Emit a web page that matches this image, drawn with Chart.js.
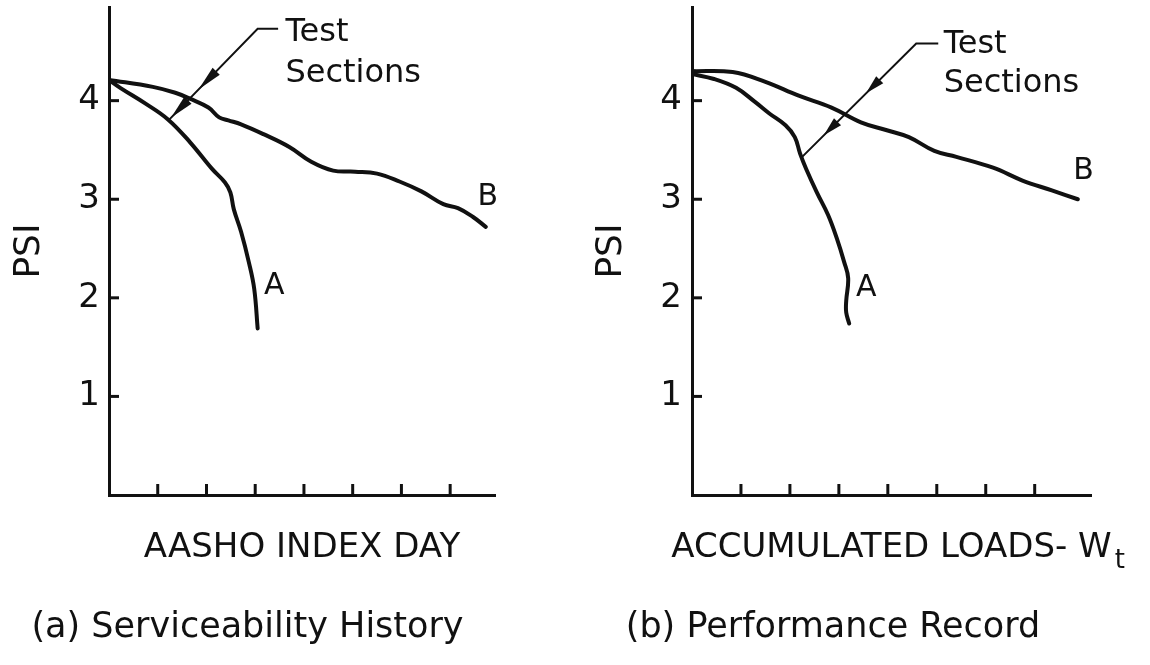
<!DOCTYPE html>
<html>
<head>
<meta charset="utf-8">
<script src="https://cdn.jsdelivr.net/npm/chart.js@4.4.1/dist/chart.umd.min.js"></script>
<style>
  html, body { margin: 0; background: #fff; }
  #wrap { position: relative; width: 1150px; height: 665px; }
  canvas { position: absolute; top: 0; }
  #hist { left: 0; }
  #perf { left: 575px; }
</style>
</head>
<body>
<div id="wrap">
  <canvas id="hist" width="575" height="665"></canvas>
  <canvas id="perf" width="575" height="665"></canvas>
</div>
<script>
// tick positions
const psiTicks = [1, 2, 3, 4];
const timeTicks = [1, 2, 3, 4, 5, 6, 7];

// (a) serviceability history
const histAx = [0, 0.23, 0.75, 1.21, 1.66, 2.11, 2.38, 2.49, 2.56, 2.71, 2.87, 2.98, 3.05];
const histAy = [4.21, 4.13, 3.97, 3.81, 3.58, 3.31, 3.17, 3.07, 2.90, 2.67, 2.36, 2.09, 1.69];
const histBx = [0, 0.90, 1.36, 1.66, 2.04, 2.26, 2.45, 2.71, 3.17, 3.70, 4.15, 4.60, 5.05, 5.50, 5.96, 6.41, 6.86, 7.16, 7.47, 7.73];
const histBy = [4.21, 4.14, 4.08, 4.02, 3.93, 3.83, 3.80, 3.76, 3.66, 3.53, 3.38, 3.29, 3.28, 3.26, 3.18, 3.08, 2.95, 2.91, 2.82, 2.72];

// (b) performance record
const perfAx = [0, 0.45, 0.90, 1.28, 1.58, 1.91, 2.10, 2.21, 2.33, 2.55, 2.78, 2.96, 3.11, 3.19, 3.15, 3.15, 3.21];
const perfAy = [4.27, 4.22, 4.13, 3.99, 3.87, 3.75, 3.63, 3.46, 3.31, 3.07, 2.84, 2.60, 2.36, 2.20, 1.97, 1.85, 1.74];
const perfBx = [0, 0.83, 1.50, 2.18, 2.85, 3.45, 3.98, 4.43, 4.95, 5.40, 6.15, 6.75, 7.35, 7.88];
const perfBy = [4.30, 4.29, 4.19, 4.05, 3.93, 3.78, 3.70, 3.63, 3.49, 3.43, 3.32, 3.19, 3.09, 3.00];

const INK = '#111';
const FONT = "'DejaVu Sans', sans-serif";

// tick marks inside the axes, axis label, curve letters and the "Test Sections" pointer
function makeInk(cfg) {
  return {
    id: 'ink',
    afterDraw(chart) {
      const { ctx, chartArea: ca, scales: { x, y } } = chart;
      const px = v => x.getPixelForValue(v);
      const py = v => y.getPixelForValue(v);
      ctx.save();
      ctx.strokeStyle = INK;
      ctx.fillStyle = INK;
      ctx.lineWidth = 3;
      x.ticks.forEach(t => {
        ctx.beginPath();
        ctx.moveTo(px(t.value), ca.bottom);
        ctx.lineTo(px(t.value), ca.bottom - 11);
        ctx.stroke();
      });
      y.ticks.forEach(t => {
        ctx.beginPath();
        ctx.moveTo(ca.left, py(t.value));
        ctx.lineTo(ca.left + 10, py(t.value));
        ctx.stroke();
      });

      // x axis label (drawn here so it may run wider than the axis)
      const cx = (ca.left + ca.right) / 2;
      ctx.font = '34px ' + FONT;
      ctx.textAlign = 'center';
      ctx.textBaseline = 'middle';
      ctx.fillText(cfg.xTitle, cx, ca.bottom + 53);
      if (cfg.sub) {
        const w = ctx.measureText(cfg.xTitle).width;
        ctx.font = '26px ' + FONT;
        ctx.textAlign = 'left';
        ctx.fillText(cfg.sub, cx + w / 2 + 3, ca.bottom + 66);
      }

      ctx.font = '30px ' + FONT;
      ctx.textAlign = 'center';
      cfg.letters.forEach(l => ctx.fillText(l.text, px(l.x), py(l.y)));

      // pointer
      const pts = cfg.pointer.map(p => [px(p[0]), py(p[1])]);
      ctx.lineWidth = 2;
      ctx.beginPath();
      pts.forEach((p, i) => i ? ctx.lineTo(p[0], p[1]) : ctx.moveTo(p[0], p[1]));
      ctx.stroke();
      const k = pts[pts.length - 2], tip = pts[pts.length - 1];
      const dx = tip[0] - k[0], dy = tip[1] - k[1];
      const len = Math.hypot(dx, dy);
      const nx = -dy / len, ny = dx / len;
      cfg.darts.forEach(([t0, t1]) => {
        const bx = k[0] + dx * t0, by = k[1] + dy * t0;
        ctx.beginPath();
        ctx.moveTo(bx + nx * 5, by + ny * 5);
        ctx.lineTo(bx - nx * 5, by - ny * 5);
        ctx.lineTo(k[0] + dx * t1, k[1] + dy * t1);
        ctx.closePath();
        ctx.fill();
      });

      ctx.font = '32px ' + FONT;
      ctx.textAlign = 'left';
      ctx.textBaseline = 'alphabetic';
      cfg.note.lines.forEach((s, i) => ctx.fillText(s, px(cfg.note.x), py(cfg.note.y[i])));
      ctx.restore();
    }
  };
}

function panel(id, cfg) {
  const series = cfg.series.map(s => ({
    data: s.x.map((v, i) => ({ x: v, y: s.y[i] })),
    showLine: true,
    borderColor: INK,
    borderWidth: 4,
    pointRadius: 0,
    tension: 0.4,
    borderCapStyle: 'round',
    borderJoinStyle: 'round'
  }));
  return new Chart(document.getElementById(id), {
    type: 'scatter',
    data: { datasets: series },
    options: {
      responsive: false,
      animation: false,
      devicePixelRatio: 1,
      layout: { padding: { top: 7, right: cfg.padRight, left: 0, bottom: 0 } },
      plugins: {
        legend: { display: false },
        tooltip: { enabled: false },
        title: {
          display: true,
          text: cfg.caption,
          position: 'bottom',
          color: INK,
          font: { family: FONT, size: 35, weight: 'normal' },
          padding: { top: 0, bottom: 16 }
        }
      },
      scales: {
        x: {
          type: 'linear',
          min: 0,
          max: cfg.xMax,
          grid: { display: false, drawTicks: false },
          border: { display: true, color: INK, width: 3 },
          ticks: { display: false },
          afterBuildTicks: s => { s.ticks = timeTicks.map(v => ({ value: v })); },
          afterFit: s => { s.height = 112; s.paddingLeft = 0; s.paddingRight = 0; }
        },
        y: {
          type: 'linear',
          min: 0,
          max: 4.95,
          grid: { display: false, drawTicks: false },
          border: { display: true, color: INK, width: 3 },
          afterBuildTicks: s => { s.ticks = psiTicks.map(v => ({ value: v })); },
          afterFit: s => { s.width = cfg.yWidth; s.paddingTop = 0; s.paddingBottom = 0; },
          ticks: {
            color: INK,
            font: { family: FONT, size: 34 },
            padding: cfg.tickPad,
            callback: v => String(v)
          },
          title: {
            display: true,
            text: 'PSI',
            color: INK,
            font: { family: FONT, size: 36 },
            padding: { top: cfg.psiPad, bottom: 0 }
          }
        }
      }
    },
    plugins: [makeInk(cfg)]
  });
}

panel('hist', {
  series: [{ x: histAx, y: histAy }, { x: histBx, y: histBy }],
  xMax: 7.92,
  padRight: 80,
  yWidth: 109,
  tickPad: 9,
  psiPad: 8,
  xTitle: 'AASHO INDEX DAY',
  caption: '(a) Serviceability History',
  letters: [{ text: 'A', x: 3.39, y: 2.12 }, { text: 'B', x: 7.77, y: 3.02 }],
  pointer: [[3.47, 4.73], [3.05, 4.73], [1.24, 3.81]],
  darts: [[0.47, 0.67], [0.79, 0.98]],
  note: { lines: ['Test', 'Sections'], x: 3.62, y: [4.61, 4.19] }
});

panel('perf', {
  series: [{ x: perfAx, y: perfAy }, { x: perfBx, y: perfBy }],
  xMax: 8.15,
  padRight: 59,
  yWidth: 117,
  tickPad: 10,
  psiPad: 15,
  xTitle: 'ACCUMULATED LOADS- W',
  sub: 't',
  caption: '(b) Performance Record',
  letters: [{ text: 'A', x: 3.56, y: 2.10 }, { text: 'B', x: 8.0, y: 3.28 }],
  pointer: [[5.03, 4.58], [4.58, 4.58], [2.25, 3.43]],
  darts: [[0.32, 0.44], [0.69, 0.81]],
  note: { lines: ['Test', 'Sections'], x: 5.14, y: [4.48, 4.09] }
});
</script>
</body>
</html>
